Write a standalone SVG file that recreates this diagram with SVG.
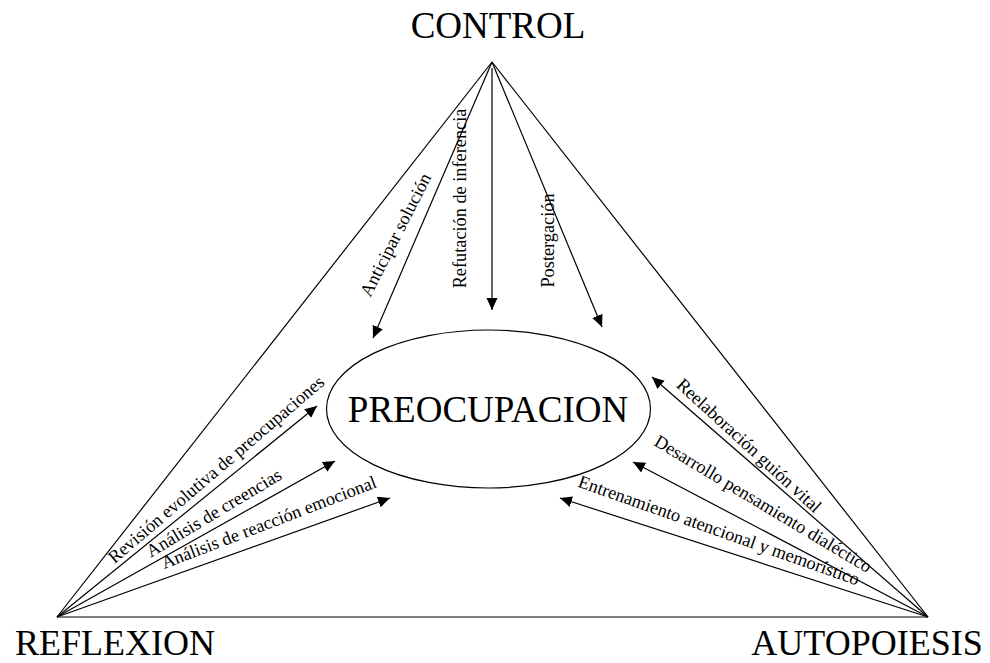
<svg xmlns="http://www.w3.org/2000/svg" width="990" height="663" viewBox="0 0 990 663">
<style>
.ln{stroke:#000;stroke-width:1.2;fill:none}
.ar{stroke:#000;stroke-width:1.2;fill:none;marker-end:url(#ah)}
text{font-family:"Liberation Serif","Times New Roman",serif;fill:#000}
.lbl{font-size:18.3px;text-anchor:middle}
.big{font-size:37px;text-anchor:middle}
.corner{font-size:36px;text-anchor:middle}
</style>
<defs>
<marker id="ah" markerUnits="userSpaceOnUse" markerWidth="13" markerHeight="12" refX="12" refY="5.5" orient="auto" viewBox="0 0 13 12">
<path d="M0,0 L12,5.5 L0,11 z" fill="#000"/>
</marker>
</defs>
<rect width="990" height="663" fill="#fff"/>
<g id="connectors">
<line class="ln" x1="492" y1="62" x2="57" y2="617"/>
<line class="ln" x1="492" y1="62" x2="928" y2="617"/>
<line class="ln" x1="57" y1="617" x2="928" y2="617"/>
<line class="ar" x1="492" y1="62" x2="373" y2="338"/>
<line class="ar" x1="492" y1="68" x2="492" y2="310"/>
<line class="ar" x1="492" y1="62" x2="602" y2="327"/>
<line class="ar" x1="57" y1="617" x2="317" y2="406"/>
<line class="ar" x1="57" y1="617" x2="335" y2="461"/>
<line class="ar" x1="57" y1="617" x2="390" y2="498"/>
<line class="ar" x1="928" y1="617" x2="652" y2="377"/>
<line class="ar" x1="928" y1="617" x2="633" y2="462"/>
<line class="ar" x1="928" y1="617" x2="560" y2="498"/>
<text class="lbl" transform="translate(401,237.5) rotate(-63)">Anticipar solución</text>
<text class="lbl" transform="translate(466,198.5) rotate(-90)">Refutación de inferencia</text>
<text class="lbl" transform="translate(554,240.5) rotate(-90)">Postergación</text>
<text class="lbl" transform="translate(220,474) rotate(-40.5)">Revisión evolutiva de preocupaciones</text>
<text class="lbl" transform="translate(217,518) rotate(-31)">Análisis de creencias</text>
<text class="lbl" transform="translate(271,528) rotate(-21)">Análisis de reacción emocional</text>
<text class="lbl" transform="translate(745,450) rotate(42.5)">Reelaboración guión vital</text>
<text class="lbl" transform="translate(760,509) rotate(31)">Desarrollo pensamiento dialéctico</text>
<text class="lbl" transform="translate(717,536) rotate(19.5)">Entrenamiento atencional y memorístico</text>
</g>
<g id="control"><text class="big" x="498" y="38">CONTROL</text></g>
<g id="reflexion"><text class="corner" x="115" y="655">REFLEXION</text></g>
<g id="autopoiesis"><text class="corner" x="867" y="655">AUTOPOIESIS</text></g>
<g id="preocupacion">
<ellipse class="ln" cx="488.5" cy="409" rx="162" ry="79"/>
<text class="big" x="488" y="422">PREOCUPACION</text>
</g>
</svg>
